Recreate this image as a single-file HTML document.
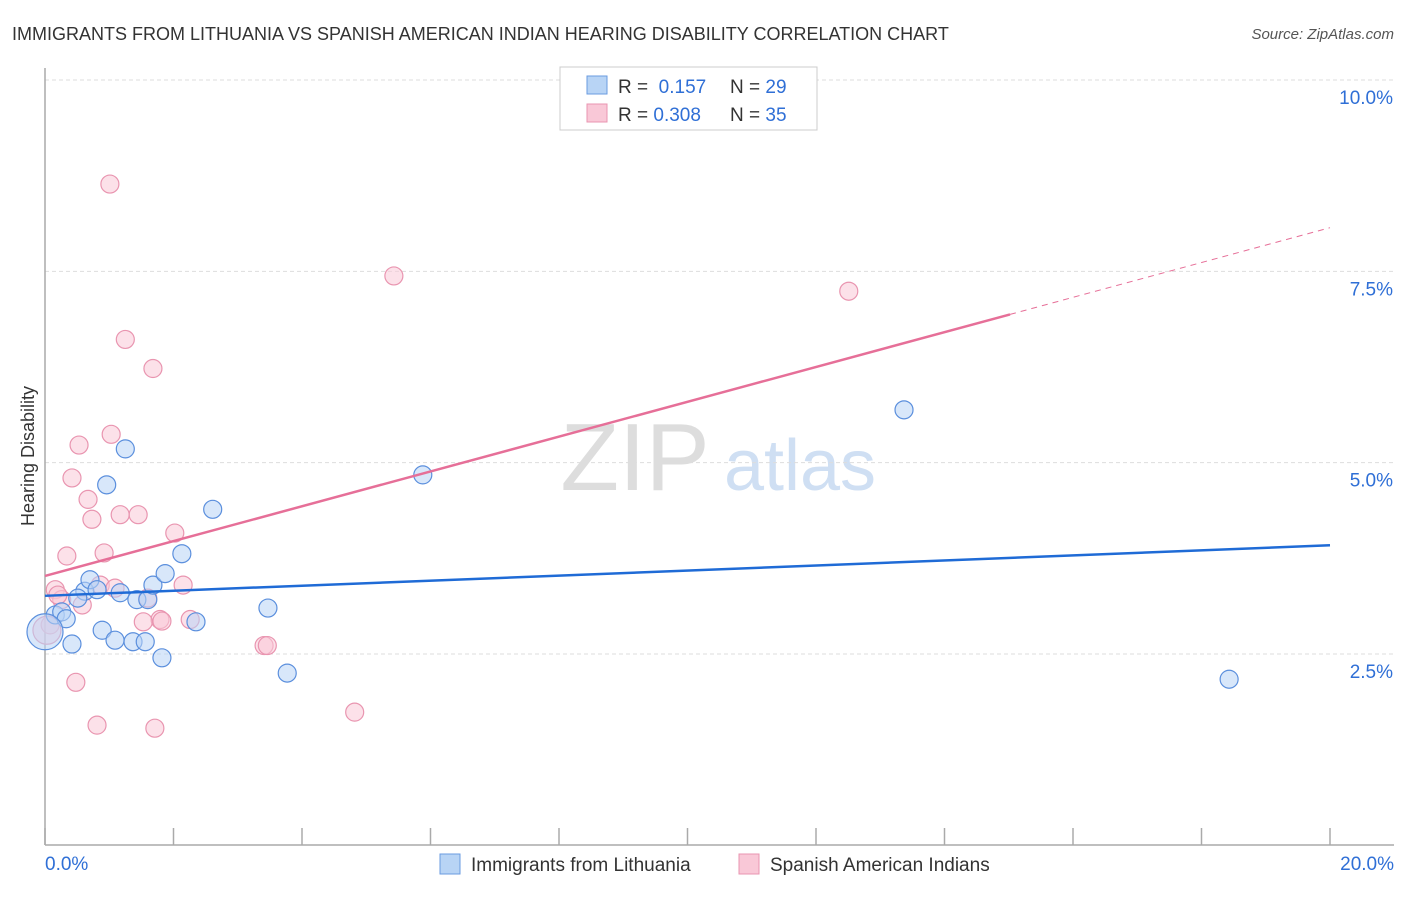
<!DOCTYPE html>
<html><head><meta charset="utf-8"><style>
body{margin:0;background:#fff;font-family:"Liberation Sans",sans-serif;}
svg text{font-family:"Liberation Sans",sans-serif;}
</style></head><body>
<svg id="chart" width="1406" height="892">
<text x="12" y="40" font-size="18" fill="#333">IMMIGRANTS FROM LITHUANIA VS SPANISH AMERICAN INDIAN HEARING DISABILITY CORRELATION CHART</text>
<text x="1394" y="39" font-size="15" fill="#555" text-anchor="end" font-style="italic">Source: ZipAtlas.com</text>
<text x="34" y="456" font-size="18" fill="#333" text-anchor="middle" transform="rotate(-90 34 456)">Hearing Disability</text>
<g><text x="635" y="490" font-size="96" fill="#ddd" text-anchor="middle" font-family="Liberation Serif">ZIP</text><text x="800" y="490" font-size="72" fill="#cfdff3" text-anchor="middle">atlas</text></g>
<g id="grid"></g><g id="axes"></g><g id="lines"></g><g id="pts"></g>
<g>
<rect x="560" y="67" width="257" height="63" fill="#fff" stroke="#ccc"/>
<rect x="587" y="76" width="20" height="18" fill="#b8d4f5" stroke="#6a9be0"/>
<rect x="587" y="104" width="20" height="18" fill="#f9c8d7" stroke="#e995b0"/>
<text x="618" y="93" font-size="19" fill="#333">R = <tspan fill="#2f6fd6">&#160;0.157</tspan><tspan x="730">N = </tspan><tspan fill="#2f6fd6">29</tspan></text>
<text x="618" y="121" font-size="19" fill="#333">R = <tspan fill="#2f6fd6">0.308</tspan><tspan x="730">N = </tspan><tspan fill="#2f6fd6">35</tspan></text>
</g>
<g>
<rect x="440" y="854" width="20" height="20" fill="#b8d4f5" stroke="#6a9be0"/>
<text x="471" y="871" font-size="19" fill="#333">Immigrants from Lithuania</text>
<rect x="739" y="854" width="20" height="20" fill="#f9c8d7" stroke="#e995b0"/>
<text x="770" y="871" font-size="19" fill="#333">Spanish American Indians</text>
</g>
</svg>
<script>
const xTicks=[0,2,4,6,8,10,12,14,16,18,20];
const yTicks=[2.5,5,7.5,10];
const yTickLabels=["2.5%","5.0%","7.5%","10.0%"];
const blueX=[0.16,0.26,0.33,0.42,0.62,0.70,0.81,0.89,0.96,1.09,1.17,1.25,1.37,1.43,1.56,1.60,1.68,1.82,1.87,2.13,2.35,2.61,3.47,3.77,5.88,13.37,18.43,0.51,0];
const blueY=[3.01,3.05,2.96,2.63,3.32,3.47,3.34,2.81,4.71,2.68,3.30,5.18,2.66,3.21,2.66,3.21,3.40,2.45,3.55,3.81,2.92,4.39,3.10,2.25,4.84,5.69,2.17,3.23,2.79];
const pinkX=[1.01,5.43,12.51,1.25,1.68,1.03,0.53,0.42,0.67,0.73,1.17,1.45,2.02,0.34,0.92,0.16,0.26,0.58,0.86,1.09,1.60,1.79,1.53,1.82,2.15,2.26,3.41,3.46,0.48,0.81,1.71,4.82,0.20,0.08,0.03];
const pinkY=[8.64,7.44,7.24,6.61,6.23,5.37,5.23,4.80,4.52,4.26,4.32,4.32,4.08,3.78,3.82,3.34,3.21,3.14,3.40,3.36,3.23,2.95,2.92,2.93,3.40,2.95,2.61,2.61,2.13,1.57,1.53,1.74,3.27,2.88,2.81];
const blueTrend=[3.26,3.92];
const pinkTrend=[3.52,8.07];
const pinkSolidEnd=15.02;
const X=v=>45+v*64.25, Y=v=>845.3-v*76.53;
const NS="http://www.w3.org/2000/svg";
function mk(p,t,a){const e=document.createElementNS(NS,t);for(const k in a)e.setAttribute(k,a[k]);document.getElementById(p).appendChild(e);return e;}
yTicks.forEach((v,i)=>{
 const g=mk('grid','line',{x1:45,x2:1394,y1:Y(v),y2:Y(v),stroke:'#ddd','stroke-dasharray':'4 3'});
 
 
 const t=mk('grid','text',{x:1393,y:Y(v)+24,'font-size':19,fill:'#2f6fd6','text-anchor':'end'});t.textContent=yTickLabels[i];
 
 
});
const ax=mk('axes','line',{x1:45,x2:45,y1:68,y2:845,stroke:'#aaa','stroke-width':1.5});


const bx=mk('axes','line',{x1:45,x2:1394,y1:845,y2:845,stroke:'#aaa','stroke-width':1.5});


xTicks.forEach(v=>{const t=mk('axes','line',{x1:X(v),x2:X(v),y1:828,y2:845,stroke:'#aaa','stroke-width':1.5});
 
 });
const l0=mk('axes','text',{x:45,y:870,'font-size':19,fill:'#2f6fd6'});l0.textContent='0.0%';


const l1=mk('axes','text',{x:1394,y:870,'font-size':19,fill:'#2f6fd6','text-anchor':'end'});l1.textContent='20.0%';


const sl=t=>pinkTrend[0]+(pinkTrend[1]-pinkTrend[0])*t/20;
const pd=mk('lines','line',{x1:X(pinkSolidEnd),y1:Y(sl(pinkSolidEnd)),x2:X(20),y2:Y(pinkTrend[1]),stroke:'#e66f98','stroke-dasharray':'6 5','stroke-width':1});


function dots(xs,ys,fill,stroke,name){xs.forEach((x,i)=>{const big=(x===0||x===0.03);const c=mk('pts','circle',{cx:X(x),cy:Y(ys[i]),r:big?(name==='lithuania-point'?18:14):9,fill:fill,'fill-opacity':0.55,stroke:stroke,'stroke-width':1.2});
 
 });}
dots(pinkX,pinkY,'#f9c8d7','#e995b0','spanish-point');
dots(blueX,blueY,'#b8d4f5','#5b8fdd','lithuania-point');
const bt=mk('pts','line',{x1:X(0),y1:Y(blueTrend[0]),x2:X(20),y2:Y(blueTrend[1]),stroke:'#1f6bd6','stroke-width':2.5});


const pt=mk('pts','line',{x1:X(0),y1:Y(pinkTrend[0]),x2:X(pinkSolidEnd),y2:Y(sl(pinkSolidEnd)),stroke:'#e66f98','stroke-width':2.5});


</script>
</body></html>
